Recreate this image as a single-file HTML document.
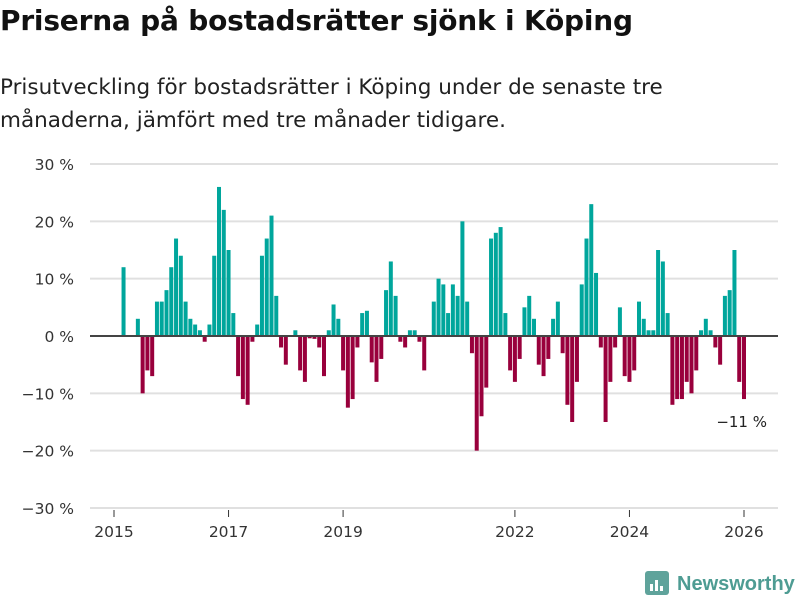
<!DOCTYPE html>
<html><head><meta charset="utf-8">
<style>
body{margin:0;background:#fff;font-family:"DejaVu Sans","Liberation Sans",sans-serif;}
#wrap{position:relative;width:800px;height:600px;overflow:hidden;}
h1{position:absolute;left:0;top:4px;margin:0;font-size:28px;font-weight:bold;color:#111;letter-spacing:-0.2px;white-space:nowrap;}
p.sub{position:absolute;left:0;top:71px;margin:0;font-size:21.5px;line-height:33px;color:#222;width:720px;}
svg{position:absolute;left:0;top:0;}
</style></head><body>
<div id="wrap">
<h1>Priserna på bostadsrätter sjönk i Köping</h1>
<p class="sub">Prisutveckling för bostadsrätter i Köping under de senaste tre månaderna, jämfört med tre månader tidigare.</p>
<svg id="chart" width="800" height="600"></svg>
</div>
<script>
const yTicks=[30,20,10,0,-10,-20,-30];
const yTickLabels=["30 %","20 %","10 %","0 %","−10 %","−20 %","−30 %"];
const xTickYears=[2015,2017,2019,2022,2024,2026];
const firstMonth=2; // months after Jan 2015 of first bar
const values=[12,null,null,3,-10,-6,-7,6,6,8,12,17,14,6,3,2,1,-1,2,14,26,22,15,4,-7,-11,-12,-1,2,14,17,21,7,-2,-5,null,1,-6,-8,-0.4,-0.5,-2,-7,1,
5.5,3,-6,-12.5,-11,-2,4,4.4,-4.6,-8,-4,8,13,7,-1,-2,1,1,-1,-6,null,6,10,9,4,9,7,20,6,-3,-20,-14,-9,17,18,19,4,-6,-8,-4,5,7,3,-5,-7,-4,
3,6,-3,-12,-15,-8,9,17,23,11,-2,-15,-8,-2,5,-7,-8,-6,6,3,1,1,15,13,4,-12,-11,-11,-8,-10,-6,1,3,1,-2,-5,7,8,15,-8,-11];
const lastLabel="−11 %";

const svg=document.getElementById('chart');
const NS='http://www.w3.org/2000/svg';
function y(v){return 336-v*5.733;}
function xm(m){return 114+m*4.7727;}
function mk(t,a){const e=document.createElementNS(NS,t);for(const k in a)e.setAttribute(k,a[k]);svg.appendChild(e);return e;}
yTicks.forEach((t,i)=>{
  if(t!==0){const g=mk('line',{x1:90,x2:778,y1:y(t),y2:y(t),stroke:'#e0e0e0','stroke-width':2});
  
  }
  const l=mk('text',{x:74,y:y(t)+6,'text-anchor':'end','font-size':15.5,fill:'#333'});
  l.textContent=yTickLabels[i];
  
  
});
xTickYears.forEach(yr=>{
  const x=xm((yr-2015)*12);
  const tk=mk('line',{x1:x,x2:x,y1:510,y2:517,stroke:'#333','stroke-width':1});
  
  
  const l=mk('text',{x:x,y:537,'text-anchor':'middle','font-size':15.5,fill:'#333'});
  l.textContent=yr;
  
  
});
values.forEach((v,i)=>{
  if(v===null)return;
  const cx=xm(firstMonth+i);
  const top=v>=0?y(v):y(0), h=Math.abs(y(v)-y(0));
  const b=mk('rect',{x:cx-2,y:top,width:4,height:h,fill:v>=0?'#00a69c':'#99003c'});
  
  
});
const z=mk('line',{x1:90,x2:778,y1:y(0),y2:y(0),stroke:'#444','stroke-width':2});


const ll=mk('text',{x:767,y:y(values[values.length-1])+28,'text-anchor':'end','font-size':15,fill:'#222'});
ll.textContent=lastLabel;


// logo
const lg=mk('rect',{x:645,y:571,width:24,height:24,rx:3,fill:'#5fa39b'});


[[650,584,3,7],[655,580,3,11],[660,586,3,5]].forEach(r=>{const e=mk('rect',{x:r[0],y:r[1],width:r[2],height:r[3],fill:'#fff'});

});
const lt=mk('text',{x:677,y:590,'font-size':20,'font-weight':'bold',fill:'#4e9c93','font-family':'Liberation Sans, sans-serif'});
lt.textContent='Newsworthy';


</script>
</body></html>
